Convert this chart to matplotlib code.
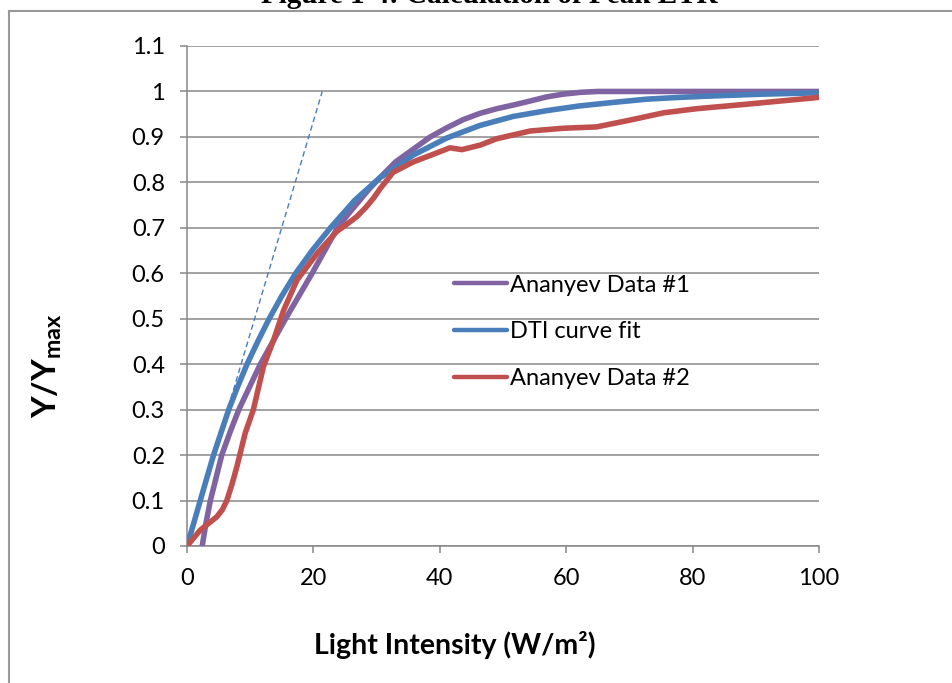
import matplotlib
matplotlib.use("Agg")
import matplotlib.pyplot as plt
from matplotlib.lines import Line2D

plt.rcParams['font.family'] = ['Lato', 'DejaVu Sans']
plt.rcParams['mathtext.fontset'] = 'custom'
plt.rcParams['mathtext.rm'] = 'Lato'
plt.rcParams['mathtext.bf'] = 'Lato:bold'

title = "Figure 1-4: Calculation of Peak ETR"
x_label = "Light Intensity (W/m²)"
y_label = r"$\mathbf{Y/Y_{max}}$"

# Ananyev Data #1
x_data1 = [2.4, 3.0, 3.7, 4.6, 5.5, 6.8, 8.2, 9.9, 11.6, 13.6, 15.6, 17.7, 19.8, 21.8,
           23.8, 25.5, 27.0, 28.8, 30.5, 33.0, 35.8, 38.5, 41.1, 43.7, 46.4, 49.0,
           51.6, 54.3, 56.9, 59.5, 62.2, 65.0, 70.0, 80.0, 100.0]
y_data1 = [0.0, 0.05, 0.1, 0.15, 0.2, 0.25, 0.3, 0.35, 0.4, 0.45, 0.5, 0.55, 0.6, 0.65,
           0.7, 0.73, 0.755, 0.785, 0.81, 0.845, 0.873, 0.9, 0.92, 0.938, 0.952, 0.962,
           0.970, 0.979, 0.988, 0.994, 0.998, 1.0, 1.0, 1.0, 1.0]

# DTI curve fit
x_fit = [0, 1.0, 2.1, 3.1, 4.2, 5.4, 6.6, 8.0, 9.5, 11.2, 13.0, 15.0, 17.2, 19.8, 22.7,
         26.5, 30.5, 35.8, 41.0, 46.3, 51.6, 57.0, 62.0, 67.5, 72.7, 78.0, 83.0, 91.0, 100]
y_fit = [0.0, 0.047, 0.1, 0.148, 0.2, 0.25, 0.3, 0.35, 0.4, 0.45, 0.5, 0.55, 0.6, 0.65,
         0.7, 0.76, 0.81, 0.86, 0.897, 0.925, 0.945, 0.958, 0.968, 0.976, 0.983, 0.987,
         0.99, 0.994, 0.997]

# Ananyev Data #2
x_data2 = [0, 2.1, 4.7, 5.6, 6.3, 7.1, 7.9, 9.2, 10.5, 12.1, 13.7, 15.3, 17.4, 20.6,
           23.7, 25.3, 26.9, 28.3, 29.5, 30.5, 32.6, 35.8, 39.0, 41.6, 43.5, 46.4,
           49.0, 54.3, 59.5, 64.8, 70.1, 75.4, 80.6, 88.6, 100]
y_data2 = [0.0, 0.035, 0.064, 0.08, 0.10, 0.135, 0.175, 0.248, 0.30, 0.395, 0.453,
           0.519, 0.585, 0.644, 0.692, 0.708, 0.725, 0.745, 0.765, 0.785, 0.822, 0.845,
           0.862, 0.876, 0.872, 0.882, 0.896, 0.913, 0.919, 0.922, 0.937, 0.953, 0.962,
           0.972, 0.987]

# initial slope line
x_slope = [0, 21.4]
y_slope = [0, 1.0]

x_ticks = [0, 20, 40, 60, 80, 100]
y_ticks = [0, 0.1, 0.2, 0.3, 0.4, 0.5, 0.6, 0.7, 0.8, 0.9, 1.0, 1.1]
y_tick_labels = ["0", "0.1", "0.2", "0.3", "0.4", "0.5", "0.6", "0.7", "0.8", "0.9", "1", "1.1"]

grid_c = "#878787"

fig = plt.figure(figsize=(9.52, 6.83), dpi=100)
ax = fig.add_axes([187/952, 1-546/683, (819-187)/952, (546-46)/683])

ax.plot(x_slope, y_slope, color="#4A7EBB", lw=1.0, ls=(0, (4, 2.5)), zorder=2)
kw = dict(lw=4.0, solid_capstyle='round', solid_joinstyle='round')
ax.plot(x_data1, y_data1, color="#8064A2", label="Ananyev Data #1", zorder=3, **kw)
ax.plot(x_fit, y_fit, color="#4A7EBB", label="DTI curve fit", zorder=4, **kw)
ax.plot(x_data2, y_data2, color="#C0504D", label="Ananyev Data #2", zorder=5, **kw)

ax.set_xlim(0, 100)
ax.set_ylim(0, 1.1)
ax.set_xticks(x_ticks)
ax.set_yticks(y_ticks)
ax.set_yticklabels(y_tick_labels)
ax.yaxis.grid(True, color=grid_c, lw=1.1)
ax.set_axisbelow(True)
for s in ['top', 'right']:
    ax.spines[s].set_visible(False)
for s in ['left', 'bottom']:
    ax.spines[s].set_color(grid_c)
    ax.spines[s].set_linewidth(1.1)
ax.tick_params(axis='both', colors=grid_c, labelcolor='black', labelsize=17,
               length=5, width=1.1, direction='out')
ax.tick_params(axis='y', pad=11)
ax.tick_params(axis='x', pad=11)

leg = ax.legend(loc='upper left', bbox_to_anchor=(0.422, 0.543), frameon=False,
                fontsize=17, handlelength=2.25, handletextpad=0.13, labelspacing=1.1,
                borderaxespad=0, borderpad=0)
for h in leg.get_lines():
    h.set_linewidth(3.2)

fig.text(455/952, 1-645/683, x_label, ha='center', va='center', fontsize=20.5,
         fontweight='bold')
fig.text(47/952, 1-366/683, y_label, ha='center', va='center', fontsize=24,
         rotation=90)
fig.text(489/952, 1-3/683, title, ha='center', va='baseline', fontsize=21,
         fontweight='bold', family='Liberation Serif')

fig.add_artist(Line2D([9/952, 1.0], [1-10.5/683, 1-10.5/683], color="#999999", lw=1.5))
fig.add_artist(Line2D([9/952, 9/952], [0, 1-10.5/683], color="#999999", lw=1.5))

fig.savefig("out.png", dpi=100)
